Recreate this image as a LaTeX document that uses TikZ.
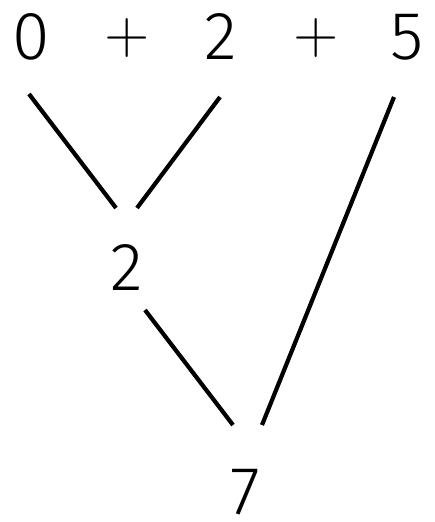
\documentclass[tikz,border=0pt]{standalone}
\usepackage{fontspec}
\newfontfamily\digitfont{Fira Sans Light}
\begin{document}
\begin{tikzpicture}[x=1pt,y=-1pt,
  num/.style={inner sep=0pt,font=\digitfont\fontsize{68}{68}\selectfont},
  op/.style={inner sep=0pt,font=\sffamily\fontsize{62}{62}\selectfont},
  link/.style={line width=4.2pt}]
\useasboundingbox (0,0) rectangle (435,522);
\node[num] (a) at (31.5,37) {0};
\node[op] (p1) at (127.5,38) {+};
\node[num] (b) at (221,37) {2};
\node[op] (p2) at (316.5,38) {+};
\node[num] (c) at (407,37) {5};
\node[num] (m) at (127,268) {2};
\node[num] (r) at (245,492) {7};
\coordinate (a1) at (29,94);
\coordinate (a2) at (116,208);
\coordinate (b1) at (220,97);
\coordinate (b2) at (137,208);
\coordinate (c1) at (394,97);
\coordinate (c2) at (262,425);
\coordinate (m1) at (145,310);
\coordinate (m2) at (233,425);
\draw[link] (a1) -- (a2);
\draw[link] (b1) -- (b2);
\draw[link] (c1) -- (c2);
\draw[link] (m1) -- (m2);
\end{tikzpicture}
\end{document}
